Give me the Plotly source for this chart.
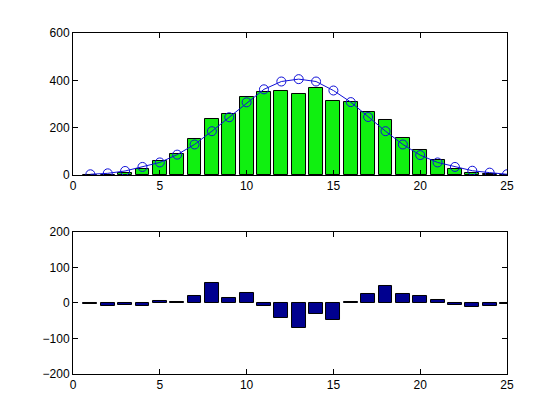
import plotly.graph_objects as go

x = list(range(1, 26))
counts = [0, 0, 10, 24, 59, 88, 151, 238, 259, 331, 349, 353, 341, 366, 311, 308, 265, 231, 156, 105, 63, 25, 8, 5, 0]
fit = [3, 7, 17, 34, 53, 86, 129, 185, 244, 307, 362, 395, 405, 395, 357, 308, 245, 185, 129, 84, 53, 34, 18, 10, 3]
resid = [-4, -9, -6, -9, 7, 3, 21, 57, 15, 29, -9, -43, -69, -32, -49, 3, 24, 49, 26, 21, 9, -6, -12, -9, -4]

fig = go.Figure()
fig.add_trace(go.Bar(x=x, y=counts, width=0.8, marker=dict(color="#10F010", line=dict(color="black", width=1)),
                     xaxis="x", yaxis="y"))
fig.add_trace(go.Scatter(x=x, y=fit, mode="lines+markers", line=dict(color="#1010D8", width=1),
                         marker=dict(symbol="circle-open", size=9, color="#1010D8", line=dict(width=1)),
                         xaxis="x", yaxis="y"))
fig.add_trace(go.Bar(x=x, y=resid, width=0.8, marker=dict(color="#00008F", line=dict(color="black", width=1)),
                     xaxis="x2", yaxis="y2"))

axis_common = dict(showgrid=False, zeroline=False, showline=True, linecolor="black", linewidth=1,
                   mirror="ticks", ticks="inside", ticklen=5, tickcolor="black", automargin=False,
                   tickfont=dict(family="Liberation Sans, Arial", size=12, color="black"))
fig.update_layout(
    width=560, height=420, showlegend=False, bargap=0,
    paper_bgcolor="white", plot_bgcolor="white",
    margin=dict(l=0, r=0, t=0, b=0, autoexpand=False),
    xaxis=dict(domain=[0.1161, 0.8911], range=[0, 25], tickvals=[0, 5, 10, 15, 20, 25], anchor="y", **axis_common),
    yaxis=dict(domain=[0.6024, 0.9405], range=[0, 600], tickvals=[0, 200, 400, 600], anchor="x", **axis_common),
    xaxis2=dict(domain=[0.1161, 0.8911], range=[0, 25], tickvals=[0, 5, 10, 15, 20, 25], anchor="y2", **axis_common),
    yaxis2=dict(domain=[0.1286, 0.4667], range=[-200, 200], tickvals=[-200, -100, 0, 100, 200], anchor="x2", **axis_common),
)
fig.write_html("out.html")
